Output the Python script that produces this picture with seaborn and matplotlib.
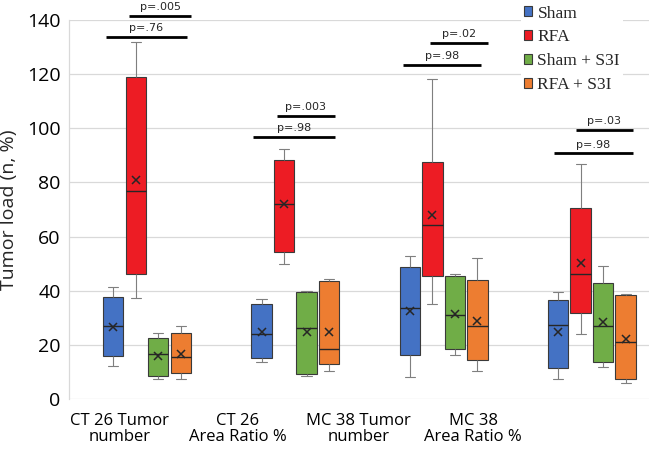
import numpy as np
import pandas as pd
import seaborn as sns
import matplotlib.pyplot as plt

sns.set_theme(style="whitegrid")
plt.rcParams["font.family"] = ["Open Sans", "DejaVu Sans"]

# categories / treatments
GROUPS = ["CT26_n", "CT26_area", "MC38_n", "MC38_area"]
GROUP_LABELS = ["CT 26 Tumor\nnumber", "CT 26\nArea Ratio %", "MC 38 Tumor\nnumber", "MC 38\nArea Ratio %"]
LABEL_POS = [-0.185, 0.614, 1.427, 2.200]
TREATMENTS = ["Sham", "RFA", "Sham + S3I", "RFA + S3I"]
COLORS = ["#4472C4", "#ED1C24", "#70AD47", "#ED7D31"]

# box statistics (one value per group)
WHIS_LO = {"Sham": [12.3, 13.7, 8.1, 7.5], "RFA": [37.2, 50.0, 35.1, 23.9],
           "Sham + S3I": [7.4, 8.5, 16.3, 11.7], "RFA + S3I": [7.4, 10.3, 10.2, 6.0]}
Q1 = {"Sham": [15.8, 15.0, 16.3, 11.3], "RFA": [46.3, 54.2, 45.5, 31.9],
      "Sham + S3I": [8.6, 9.2, 18.3, 13.7], "RFA + S3I": [9.5, 12.9, 14.5, 7.4]}
MEDIAN = {"Sham": [27.0, 23.9, 33.5, 27.2], "RFA": [76.8, 72.2, 64.1, 46.2],
          "Sham + S3I": [16.7, 26.1, 31.1, 27.1], "RFA + S3I": [15.6, 18.3, 27.0, 21.1]}
Q3 = {"Sham": [37.7, 35.0, 48.6, 36.7], "RFA": [119.0, 88.3, 87.4, 70.4],
      "Sham + S3I": [22.5, 39.5, 45.4, 43.0], "RFA + S3I": [24.2, 43.6, 43.8, 38.3]}
WHIS_HI = {"Sham": [41.4, 36.9, 53.0, 39.6], "RFA": [132.0, 92.2, 118.2, 86.7],
           "Sham + S3I": [24.2, 40.0, 46.0, 49.2], "RFA + S3I": [27.0, 44.4, 52.2, 38.7]}
MEAN = {"Sham": [26.7, 24.6, 32.5, 24.9], "RFA": [80.8, 72.0, 68.0, 50.2],
        "Sham + S3I": [16.0, 24.9, 31.5, 28.3], "RFA + S3I": [16.5, 24.9, 28.9, 22.0]}

# significance brackets: p text, y level, x offsets relative to group
P_TEXT = [["p=.76", "p=.005"], ["p=.98", "p=.003"], ["p=.98", "p=.02"], ["p=.98", "p=.03"]]
P_Y = [[133.8, 141.4], [96.9, 104.4], [123.4, 131.4], [90.7, 99.3]]
P_X0 = [[-0.276, -0.121], [-0.285, -0.123], [-0.273, -0.091], [-0.254, -0.108]]
P_X1 = [[0.270, 0.297], [0.265, 0.265], [0.253, 0.300], [0.274, 0.274]]

rows = []
for t in TREATMENTS:
    for i, g in enumerate(GROUPS):
        for src in (WHIS_LO, Q1, MEDIAN, Q3, WHIS_HI):
            rows.append({"group": g, "treatment": t, "value": src[t][i]})
box_df = pd.DataFrame(rows)
mean_df = pd.DataFrame([{"group": g, "treatment": t, "value": MEAN[t][i]}
                        for t in TREATMENTS for i, g in enumerate(GROUPS)])

fig = plt.figure(figsize=(6.49, 4.55), dpi=100)
ax = fig.add_axes([69 / 649, 56 / 455, 580 / 649, 379 / 455])

WIDTH = 0.607
sns.boxplot(data=box_df, x="group", y="value", hue="treatment", order=GROUPS, hue_order=TREATMENTS,
            palette=COLORS, saturation=1, width=WIDTH, gap=0.09, whis=(0, 100),
            linecolor="#3a3a3a", linewidth=0.8, showfliers=False,
            whiskerprops={"color": "#7f7f7f"}, capprops={"color": "#7f7f7f"},
            medianprops={"color": "#262626", "linewidth": 1.0}, ax=ax)
sns.pointplot(data=mean_df, x="group", y="value", hue="treatment", order=GROUPS, hue_order=TREATMENTS,
              palette=["#262626"] * 4, dodge=WIDTH * 3 / 4, markers="x", linestyle="none",
              errorbar=None, legend=False, markersize=6, markeredgewidth=1.1, ax=ax)

ax.set_xlim(-0.526, 3.385)
ax.set_ylim(0, 140)
ax.set_yticks(np.arange(0, 141, 20))
ax.grid(axis="y", color="#d9d9d9", linewidth=0.9)
ax.grid(axis="x", visible=False)
for s in ["top", "right", "bottom"]:
    ax.spines[s].set_visible(False)
ax.spines["left"].set_color("#d9d9d9")
ax.spines["left"].set_linewidth(0.9)
ax.tick_params(length=0, colors="black")
ax.tick_params(axis="y", pad=6, labelsize=14)
ax.tick_params(axis="x", pad=10, labelsize=12)
ax.set_xticks(LABEL_POS)
ax.set_xticklabels(GROUP_LABELS, linespacing=1.0)
ax.set_xlabel("")
ax.set_ylabel("Tumor load (n, %)", fontsize=14)
ax.yaxis.set_label_coords(-0.088, 0.5)

for i in range(len(GROUPS)):
    for k in range(2):
        x0, x1, y = i + P_X0[i][k], i + P_X1[i][k], P_Y[i][k]
        ax.plot([x0, x1], [y, y], color="black", linewidth=2, clip_on=False, solid_capstyle="butt")
        ax.text((x0 + x1) / 2, y + 2.2, P_TEXT[i][k], ha="center", va="baseline",
                fontsize=8, family="DejaVu Sans", clip_on=False)

handles, labels = ax.get_legend_handles_labels()
ax.legend(handles, labels, loc="upper left", bbox_to_anchor=(521 / 649, 1 - 3 / 455),
          bbox_transform=fig.transFigure, prop={"family": "Liberation Serif", "size": 12.5},
          frameon=True, facecolor="white", edgecolor="none", framealpha=1, fancybox=False,
          borderpad=0.15, borderaxespad=0, handlelength=0.5, handleheight=0.5,
          handletextpad=0.3, labelspacing=0.45)

fig.savefig("out.png", dpi=100)
